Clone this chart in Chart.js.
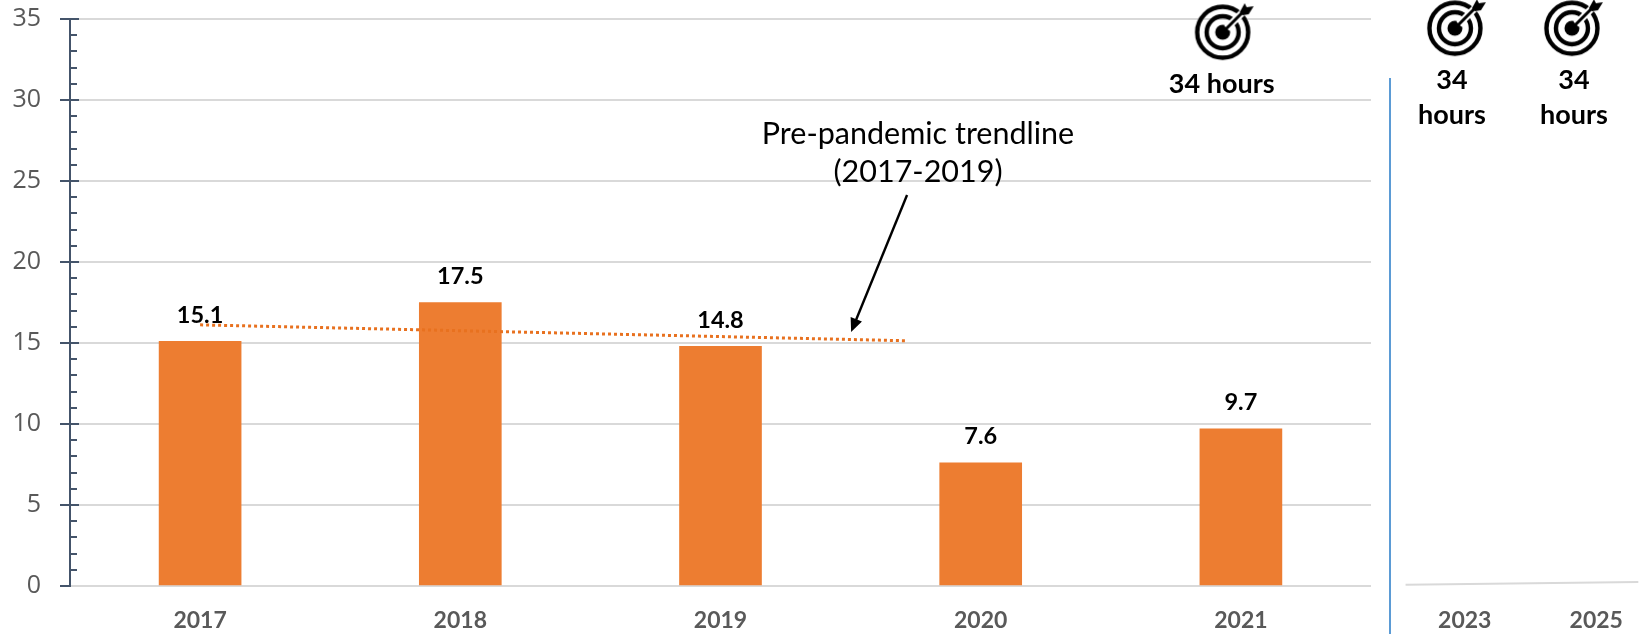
<!DOCTYPE html>
<html>
<head>
<meta charset="utf-8">
<title>Hours chart</title>
<script src="https://cdn.jsdelivr.net/npm/chart.js@4/dist/chart.umd.min.js"></script>
<style>
    html, body { margin: 0; padding: 0; background: #fff; overflow: hidden; width: 1643px; height: 634px; }
    canvas { position: absolute; top: 0; }
    #mainChart { left: 0; }
    #sideChart { left: 1392px; }
    #divider { position: absolute; left: 1389px; top: 78px; width: 2px; height: 556px; background: #5b9bd5; }
</style>
</head>
<body>
<canvas id="mainChart" width="1392" height="634"></canvas>
<canvas id="sideChart" width="275" height="634"></canvas>
<div id="divider"></div>
<script>
(() => {
    // values
    const years = [2017, 2018, 2019, 2020, 2021];
    const hours = [15.1, 17.5, 14.8, 7.6, 9.7];
    const trendYears = [2017, 2019.71];
    const trendHours = [16.12, 15.14];
    const arrowYears = [2019.717, 2019.502];
    const arrowHours = [24.14, 15.68];
    const targetYear = [2020.93];
    const targetHours = [34];

    const sideYears = ['2023', '2025'];
    const sideTargetYears = [2022.85, 2024.63];
    const sideTargetHours = [34, 34];
    const sideBaseYears = [2022.1, 2025.64];
    const sideBaseHours = [0.08, 0.25];

    const GRAY = '#595959';
    const ORANGE = '#ed7d31';
    const AXIS = '#44546a';
    const FONT = 'Lato, sans-serif';

    // bullseye with arrow, used as the point style of the target series
    function targetIcon(dy) {
        const c = document.createElement('canvas');
        c.width = 80;
        c.height = 80;
        const g = c.getContext('2d');
        const cx = 40, cy = 40 + dy;
        g.strokeStyle = '#000';
        g.fillStyle = '#000';
        g.lineWidth = 4.4;
        g.beginPath(); g.arc(cx, cy, 25.5, 0, Math.PI * 2); g.stroke();
        g.beginPath(); g.arc(cx, cy, 16, 0, Math.PI * 2); g.stroke();
        g.beginPath(); g.arc(cx, cy, 7.5, 0, Math.PI * 2); g.fill();
        // gap in the rings round the shaft
        g.strokeStyle = '#fff';
        g.lineWidth = 7;
        g.beginPath(); g.moveTo(cx + 4, cy - 4); g.lineTo(cx + 27, cy - 27); g.stroke();
        g.strokeStyle = '#000';
        g.lineWidth = 3;
        g.beginPath(); g.moveTo(cx, cy); g.lineTo(cx + 21, cy - 21); g.stroke();
        // fletching
        g.beginPath();
        g.moveTo(cx + 17, cy - 20);
        g.lineTo(cx + 22, cy - 29);
        g.lineTo(cx + 24, cy - 25);
        g.lineTo(cx + 31, cy - 26);
        g.lineTo(cx + 26, cy - 18);
        g.lineTo(cx + 20, cy - 17);
        g.closePath();
        g.fill();
        return c;
    }

    const minorTicks = {
        id: 'minorTicks',
        afterDraw(chart) {
            const scale = chart.scales.y;
            const ctx = chart.ctx;
            const x = scale.right;
            ctx.save();
            ctx.strokeStyle = AXIS;
            ctx.lineWidth = 2;
            scale.ticks.forEach(t => {
                const y = Math.round(scale.getPixelForValue(t.value));
                const major = t.value % 5 === 0;
                ctx.beginPath();
                ctx.moveTo(major ? x - 10 : x, y);
                ctx.lineTo(t.value === 0 ? x + 1 : (major ? x + 9 : x + 7), y);
                ctx.stroke();
            });
            ctx.restore();
        }
    };

    const mainText = {
        id: 'mainText',
        afterDraw(chart) {
            const ctx = chart.ctx;
            const { x: xs, y } = chart.scales;
            ctx.save();
            ctx.textAlign = 'center';
            ctx.textBaseline = 'middle';

            // bar values
            ctx.fillStyle = '#000';
            ctx.font = 'bold 23.5px ' + FONT;
            chart.getDatasetMeta(0).data.forEach((bar, i) => {
                ctx.fillText(hours[i].toFixed(1), bar.x, bar.y - 26);
            });

            // target label
            const icon = chart.getDatasetMeta(2).data[0];
            ctx.font = 'bold 27px ' + FONT;
            ctx.fillText('34 hours', icon.x - 1, 84);

            // note and arrow
            ctx.font = '30.5px ' + FONT;
            ctx.fillText('Pre-pandemic trendline', 918, 134);
            ctx.fillText('(2017-2019)', 918, 172);

            const x0 = xs.getPixelForValue(arrowYears[0]);
            const y0 = y.getPixelForValue(arrowHours[0]);
            const x1 = xs.getPixelForValue(arrowYears[1]);
            const y1 = y.getPixelForValue(arrowHours[1]);
            const a = Math.atan2(y1 - y0, x1 - x0);
            ctx.strokeStyle = '#000';
            ctx.lineWidth = 2.4;
            ctx.beginPath();
            ctx.moveTo(x0, y0);
            ctx.lineTo(x1 - 10 * Math.cos(a), y1 - 10 * Math.sin(a));
            ctx.stroke();
            ctx.beginPath();
            ctx.moveTo(x1, y1);
            ctx.lineTo(x1 - 15 * Math.cos(a - 0.42), y1 - 15 * Math.sin(a - 0.42));
            ctx.lineTo(x1 - 15 * Math.cos(a + 0.42), y1 - 15 * Math.sin(a + 0.42));
            ctx.closePath();
            ctx.fill();
            ctx.restore();
        }
    };

    const sideText = {
        id: 'sideText',
        afterDraw(chart) {
            const ctx = chart.ctx;
            const shift = [-3, 2];
            ctx.save();
            ctx.textAlign = 'center';
            ctx.textBaseline = 'middle';
            ctx.fillStyle = '#000';
            ctx.font = 'bold 27px ' + FONT;
            chart.getDatasetMeta(0).data.forEach((p, i) => {
                ctx.fillText('34', p.x + shift[i], 80);
                ctx.fillText('hours', p.x + shift[i], 115);
            });
            ctx.restore();
        }
    };

    new Chart(document.getElementById('mainChart'), {
        type: 'bar',
        data: {
            datasets: [
                {
                    data: years.map((x, i) => ({ x: x, y: hours[i] })),
                    backgroundColor: ORANGE,
                    barThickness: 82,
                    order: 3
                },
                {
                    type: 'line',
                    data: trendYears.map((x, i) => ({ x: x, y: trendHours[i] })),
                    borderColor: '#e8711f',
                    borderWidth: 3,
                    borderDash: [3, 3],
                    pointRadius: 0,
                    order: 1
                },
                {
                    type: 'line',
                    data: targetYear.map((x, i) => ({ x: x, y: targetHours[i] })),
                    showLine: false,
                    pointStyle: targetIcon(-3),
                    clip: false,
                    order: 0
                }
            ]
        },
        options: {
            responsive: false,
            animation: false,
            layout: { padding: { top: 19, right: 21, left: 0, bottom: 0 } },
            plugins: { legend: { display: false }, tooltip: { enabled: false } },
            scales: {
                x: {
                    type: 'linear',
                    min: 2016.5,
                    max: 2021.5,
                    offset: false,
                    grid: { display: false },
                    border: { display: false },
                    afterBuildTicks: s => { s.ticks = years.map(v => ({ value: v })); },
                    ticks: {
                        color: GRAY,
                        padding: 13,
                        autoSkip: false,
                        maxRotation: 0,
                        font: { family: FONT, size: 23, weight: 'bold' },
                        callback: v => String(v)
                    },
                    afterFit: s => { s.height = 48; s.paddingLeft = 0; s.paddingRight = 0; }
                },
                y: {
                    min: 0,
                    max: 35,
                    border: { display: true, color: AXIS, width: 2 },
                    grid: {
                        drawTicks: false,
                        color: '#d9d9d9',
                        lineWidth: c => (c.tick && c.tick.value % 5 === 0 ? 2 : 0)
                    },
                    ticks: {
                        stepSize: 1,
                        autoSkip: false,
                        padding: 29,
                        color: GRAY,
                        font: { family: '"Open Sans", sans-serif', size: 25 },
                        callback: v => (v % 5 === 0 ? String(v) : '')
                    },
                    afterFit: s => { s.width = 70; s.paddingTop = 0; s.paddingBottom = 0; }
                }
            }
        },
        plugins: [minorTicks, mainText]
    });

    new Chart(document.getElementById('sideChart'), {
        type: 'line',
        data: {
            labels: sideYears,
            datasets: [
                {
                    data: sideTargetYears.map((x, i) => ({ x: x, y: sideTargetHours[i] })),
                    xAxisID: 'xT',
                    showLine: false,
                    pointStyle: targetIcon(-7),
                    clip: false
                },
                {
                    data: sideBaseYears.map((x, i) => ({ x: x, y: sideBaseHours[i] })),
                    xAxisID: 'xT',
                    borderColor: '#d9d9d9',
                    borderWidth: 2,
                    pointRadius: 0
                }
            ]
        },
        options: {
            responsive: false,
            animation: false,
            layout: { padding: { top: 19, left: 7, right: 0, bottom: 0 } },
            plugins: { legend: { display: false }, tooltip: { enabled: false } },
            scales: {
                x: {
                    offset: true,
                    grid: { display: false },
                    border: { display: false },
                    ticks: { color: GRAY, padding: 13, maxRotation: 0, font: { family: FONT, size: 23, weight: 'bold' } },
                    afterFit: s => { s.height = 48; s.paddingLeft = 0; s.paddingRight = 0; }
                },
                xT: { type: 'linear', display: false, min: 2022, max: 2026 },
                y: { min: 0, max: 35, display: false }
            }
        },
        plugins: [sideText]
    });
})();
</script>
</body>
</html>
